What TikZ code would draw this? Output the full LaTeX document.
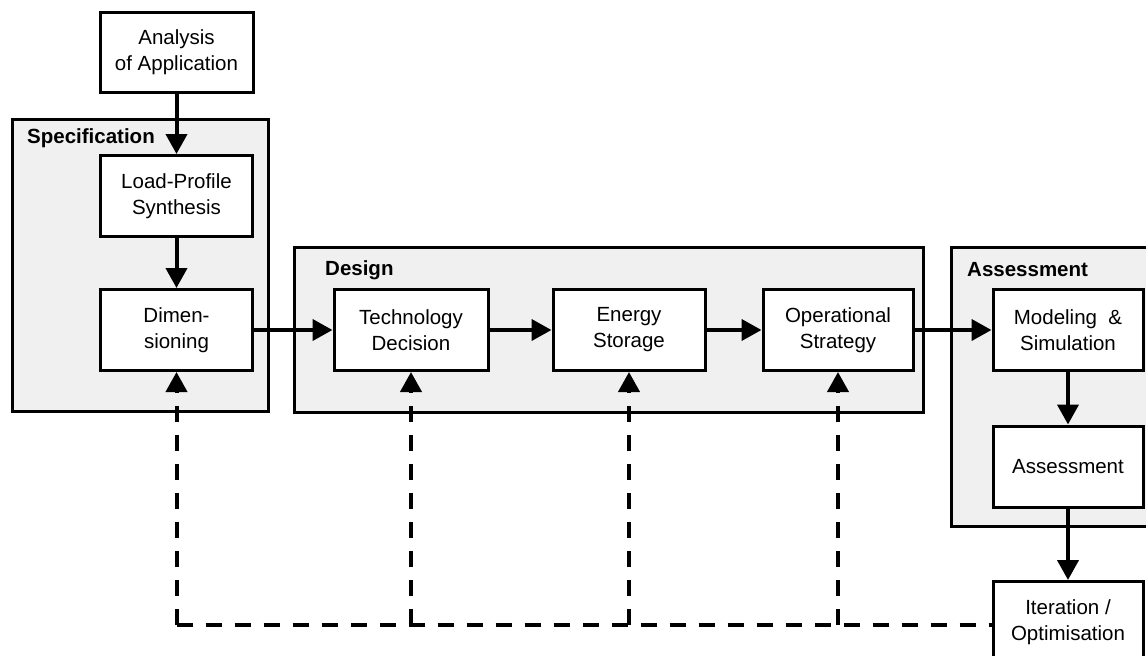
\documentclass[tikz,border=0pt]{standalone}
\usepackage{fontspec}
\newfontfamily\arialf{Liberation Sans}
\usetikzlibrary{arrows.meta}
\definecolor{panel}{RGB}{240,240,240}
\tikzset{
  box/.style={draw, line width=3pt, fill=white, minimum width=152pt, minimum height=81pt,
    align=center, inner sep=0pt, font=\arialf\fontsize{20.5}{26}\selectfont},
  grp/.style={draw, line width=3pt, fill=panel},
  grplabel/.style={anchor=base west, inner sep=0pt, font=\arialf\bfseries\fontsize{20.5}{26}\selectfont},
  arr/.style={line width=4pt, -{Triangle[length=20pt,width=21pt]}},
  dsh/.style={line width=4pt, dash pattern=on 16pt off 13pt},
  dsharr/.style={line width=4pt, dash pattern=on 16pt off 13pt, -{Triangle[length=20pt,width=21pt]}}
}
\begin{document}
\begin{tikzpicture}[x=1pt,y=-1pt]
\clip (0,0) rectangle (1146,656);
\fill[white] (0,0) rectangle (1146,656);
% groups
\draw[grp] (12,119) rectangle (268,411);
\draw[grp] (294,247) rectangle (923,412);
\draw[grp] (951,247) rectangle (1170,526);
\node[grplabel] (lspec) at (27,143) {Specification};
\node[grplabel] (ldes) at (325,275) {Design};
\node[grplabel] (lass) at (967,276) {Assessment};
% boxes
\node[box, minimum width=153pt, minimum height=80pt] (ana) at (176.5,52) {Analysis\\of Application};
\node[box] (lps) at (176.5,196) {Load-Profile\\Synthesis};
\node[box] (dim) at (176.5,330) {Dimen-\\sioning};
\node[box, minimum width=154pt] (tech) at (411,330) {Technology\\Decision};
\node[box] (ene) at (629,330) {Energy\\Storage};
\node[box, minimum width=150pt] (ops) at (838,330) {Operational\\Strategy};
\node[box, minimum width=150pt] (mod) at (1068,330) {Modeling\ \ \&\\Simulation};
\node[box, minimum width=150pt] (ass) at (1068,466.5) {Assessment};
\node[box, minimum width=150pt] (iter) at (1068,622) {Iteration /\\Optimisation};
% solid arrows
\draw[arr] (ana) -- (lps);
\draw[arr] (lps) -- (dim);
\draw[arr] (dim) -- (tech);
\draw[arr] (tech) -- (ene);
\draw[arr] (ene) -- (ops);
\draw[arr] (ops) -- (mod);
\draw[arr] (mod) -- (ass);
\draw[arr] (ass) -- (iter);
% feedback
\coordinate (c1) at (176.5,625);
\draw[dsh] (c1) -- (iter.west |- c1);
\draw[dsharr] (c1) -- (dim.south);
\draw[dsharr] (tech.south |- c1) -- (tech.south);
\draw[dsharr] (ene.south |- c1) -- (ene.south);
\draw[dsharr] (ops.south |- c1) -- (ops.south);
\end{tikzpicture}
\end{document}
